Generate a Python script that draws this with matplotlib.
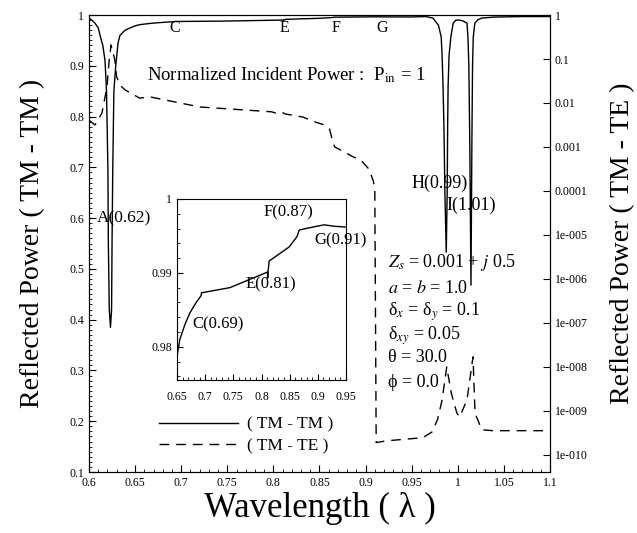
import numpy as np
import matplotlib
matplotlib.use("Agg")
import matplotlib.pyplot as plt
from matplotlib.lines import Line2D
from matplotlib.ticker import MultipleLocator, FixedLocator, FixedFormatter, LogLocator, NullFormatter

plt.rcParams['font.family'] = ['Liberation Serif', 'DejaVu Serif']
plt.rcParams['mathtext.fontset'] = 'stix'

# TM-TM reflected power (left, linear axis)
tm_wl = [0.600, 0.603, 0.6065, 0.610, 0.612, 0.615, 0.6174, 0.619, 0.6205, 0.621,
         0.622, 0.6233, 0.6245, 0.625, 0.6258, 0.627, 0.629, 0.6315, 0.6336, 0.639,
         0.645, 0.650, 0.655, 0.664, 0.673, 0.684, 0.6926, 0.6935, 0.744, 0.8105,
         0.8110, 0.8115, 0.8136, 0.849, 0.863, 0.867, 0.885, 0.911, 0.930, 0.950,
         0.965, 0.973, 0.979, 0.982, 0.983, 0.984, 0.985, 0.986, 0.9875, 0.9885,
         0.989, 0.9895, 0.9905, 0.9925, 0.995, 0.998, 1.002, 1.006, 1.010, 1.011,
         1.012, 1.013, 1.0143, 1.0153, 1.016, 1.0168, 1.0185, 1.022, 1.026, 1.040,
         1.070, 1.100]
tm_val = [0.994, 0.990, 0.984, 0.975, 0.960, 0.940, 0.910, 0.850, 0.700, 0.550,
          0.420, 0.385, 0.420, 0.550, 0.700, 0.850, 0.900, 0.945, 0.960, 0.970,
          0.975, 0.9787, 0.981, 0.983, 0.9846, 0.986, 0.9869, 0.9873, 0.9880, 0.9901,
          0.9893, 0.9901, 0.9916, 0.9935, 0.9949, 0.9958, 0.9961, 0.9965, 0.9963, 0.9962,
          0.997, 0.994, 0.980, 0.957, 0.920, 0.860, 0.780, 0.650, 0.533, 0.650,
          0.780, 0.860, 0.920, 0.957, 0.984, 0.990, 0.990, 0.988, 0.984, 0.957,
          0.900, 0.750, 0.468, 0.750, 0.900, 0.957, 0.984, 0.991, 0.994, 0.996,
          0.997, 0.997]

# TM-TE reflected power (right, log axis), stored as log10 values
te_wl = [0.600, 0.6065, 0.614, 0.6195, 0.622, 0.624, 0.628, 0.630, 0.634, 0.639,
         0.655, 0.666, 0.720, 0.798, 0.806, 0.810, 0.813, 0.832, 0.845, 0.8555,
         0.861, 0.864, 0.8665, 0.874, 0.886, 0.895, 0.9035, 0.9085, 0.910, 0.9115,
         0.923, 0.962, 0.972, 0.978, 0.983, 0.988, 0.993, 0.999, 1.002, 1.010,
         1.0165, 1.0187, 1.026, 1.038, 1.100]
te_log10 = [-2.39, -2.50, -2.23, -1.64, -1.00, -0.68, -1.02, -1.41, -1.60, -1.70,
            -1.89, -1.86, -2.09, -2.20, -2.25, -2.22, -2.25, -2.32, -2.43, -2.50,
            -2.60, -2.85, -3.00, -3.08, -3.22, -3.30, -3.50, -3.78, -4.00, -9.72,
            -9.68, -9.61, -9.48, -9.20, -8.75, -8.00, -8.60, -9.05, -9.14, -8.75,
            -7.77, -9.05, -9.43, -9.45, -9.45]

top_letters = ["C", "E", "F", "G"]
top_letter_x = [0.693, 0.8125, 0.868, 0.918]
params = [r"$Z_s$ = 0.001 + $j$ 0.5", r"$a$ = $b$ = 1.0", r"δ$_x$ = δ$_y$ = 0.1",
          r"δ$_{xy}$ = 0.05", "θ = 30.0", "ϕ = 0.0"]
param_y = [0.512, 0.462, 0.415, 0.368, 0.325, 0.277]
right_ticks = [1e-10, 1e-9, 1e-8, 1e-7, 1e-6, 1e-5, 1e-4, 1e-3, 1e-2, 1e-1, 1]
right_labels = ["1e-010", "1e-009", "1e-008", "1e-007", "1e-006", "1e-005",
                "0.0001", "0.001", "0.01", "0.1", "1"]

te_val = 10 ** np.array(te_log10)
fmt = matplotlib.ticker.FuncFormatter(lambda v, p: f"{v:g}")

fig = plt.figure(figsize=(6.37, 5.33), dpi=100)
ax = fig.add_axes([0.1397, 0.1144, 0.7237, 0.8574])
ax2 = ax.twinx()

ax.plot(tm_wl, tm_val, color='black', lw=1.0)
ax2.plot(te_wl, te_val, color='black', lw=1.0, dashes=(7, 5))

ax.set_xlim(0.6, 1.1)
ax.set_ylim(0.1, 1.0)
ax.xaxis.set_major_locator(MultipleLocator(0.05))
ax.xaxis.set_minor_locator(MultipleLocator(0.01))
ax.yaxis.set_major_locator(MultipleLocator(0.1))
ax.yaxis.set_minor_locator(MultipleLocator(0.01))
ax.xaxis.set_major_formatter(fmt)
ax.yaxis.set_major_formatter(fmt)
ax.tick_params(which='both', direction='in', labelsize=8.5, top=False, right=False)
ax.tick_params(which='major', length=5)
ax.tick_params(which='minor', length=2.5)

ax2.set_yscale('log')
ax2.set_ylim(10 ** -10.39, 1.0)
ax2.yaxis.set_major_locator(FixedLocator(right_ticks))
ax2.yaxis.set_major_formatter(FixedFormatter(right_labels))
ax2.yaxis.set_minor_locator(LogLocator(base=10, subs=np.arange(2, 10)))
ax2.yaxis.set_minor_formatter(NullFormatter())
ax2.tick_params(which='both', direction='in', labelsize=8.5)
ax2.tick_params(which='major', length=5)
ax2.tick_params(which='minor', length=2.5)

ax.set_xlabel("Wavelength ( λ )", fontsize=25, labelpad=2)
ax.set_ylabel("Reflected Power ( TM - TM )", fontsize=20)
ax2.set_ylabel("Reflected Power ( TM - TE )", fontsize=20)
ax.yaxis.set_label_coords(-0.095, 0.5)
ax2.yaxis.set_label_coords(1.13, 0.5)

for s, x in zip(top_letters, top_letter_x):
    ax.text(x, 0.974, s, fontsize=11.5, ha='center', va='center')
ax.text(0.663, 0.882, r"Normalized Incident Power :  P$_{\mathrm{in}}$ = 1", fontsize=13.5, va='center')
ax.text(0.6087, 0.600, "A(0.62)", fontsize=12.5, va='center')
ax.text(0.950, 0.669, "H(0.99)", fontsize=13, va='center')
ax.text(0.988, 0.626, "I(1.01)", fontsize=13, va='center')
for s, y in zip(params, param_y):
    ax.text(0.924, y, s, fontsize=13, va='center')

handles = [Line2D([], [], color='black', lw=1.0),
           Line2D([], [], color='black', lw=1.0, dashes=(7, 5))]
ax.legend(handles, ["( TM - TM )", "( TM - TE )"], loc='center left',
          bbox_to_anchor=(0.117, 0.08), frameon=False, fontsize=12.5,
          handlelength=4.6, labelspacing=0.3, handletextpad=0.5)

# inset
axi = fig.add_axes([0.2779, 0.2871, 0.2653, 0.3396])
axi.plot(tm_wl, tm_val, color='black', lw=1.0)
axi.set_xlim(0.65, 0.95)
axi.set_ylim(0.9755, 1.0)
axi.xaxis.set_major_locator(MultipleLocator(0.05))
axi.xaxis.set_minor_locator(MultipleLocator(0.01))
axi.yaxis.set_major_locator(FixedLocator([0.98, 0.99, 1.0]))
axi.yaxis.set_minor_locator(MultipleLocator(0.002))
axi.xaxis.set_major_formatter(fmt)
axi.yaxis.set_major_formatter(fmt)
axi.tick_params(which='both', direction='in', labelsize=8.5)
axi.tick_params(which='major', length=4)
axi.tick_params(which='minor', length=2)
axi.tick_params(axis='x', pad=8)
axi.text(0.803, 0.99824, "F(0.87)", fontsize=12, va='center')
axi.text(0.893, 0.99446, "G(0.91)", fontsize=12, va='center')
axi.text(0.771, 0.98838, "E(0.81)", fontsize=12, va='center')
axi.text(0.677, 0.98297, "C(0.69)", fontsize=12, va='center')

fig.savefig("out.png", dpi=100)
